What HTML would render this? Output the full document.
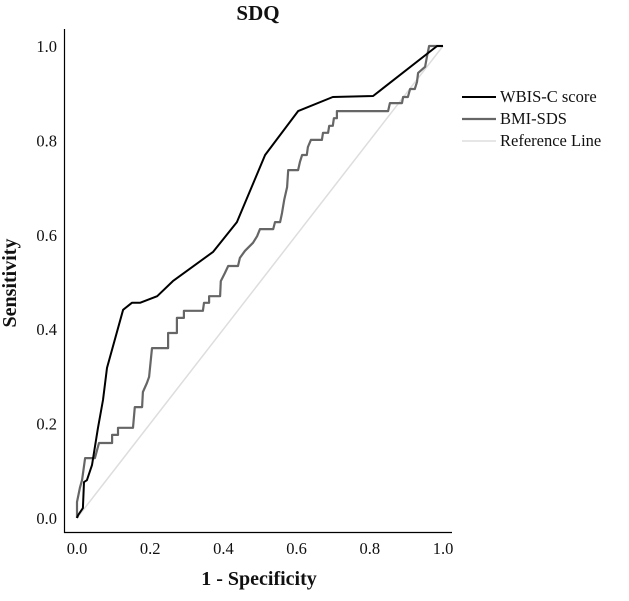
<!DOCTYPE html>
<html><head><meta charset="utf-8"><style>
body{margin:0;background:#fff;}
svg text{font-family:"Liberation Serif",serif;fill:#111;}
</style></head><body>
<svg width="629" height="596" viewBox="0 0 629 596">
<text x="258" y="20" text-anchor="middle" font-size="21" font-weight="bold">SDQ</text>
<text transform="translate(16,283) rotate(-90)" text-anchor="middle" font-size="20" font-weight="bold">Sensitivity</text>
<text x="259" y="585" text-anchor="middle" font-size="20" font-weight="bold">1 - Specificity</text>
<g id="axes"></g>
<g id="plot"></g>
<g>
<line x1="462" y1="97" x2="496" y2="97" stroke="#000" stroke-width="2"/>
<text x="500" y="102" font-size="16.5">WBIS-C score</text>
<line x1="462" y1="119" x2="496" y2="119" stroke="#666" stroke-width="2.2"/>
<text x="500" y="124" font-size="16.5">BMI-SDS</text>
<line x1="462" y1="141" x2="496" y2="141" stroke="#ddd" stroke-width="1.5"/>
<text x="500" y="146" font-size="16.5">Reference Line</text>
</g>
</svg>
<script>
const ticks=[0,0.2,0.4,0.6,0.8,1.0];
const tickLabels=["0.0","0.2","0.4","0.6","0.8","1.0"];
const wbisFpr=[0,0.003,0.016,0.019,0.027,0.041,0.057,0.071,0.082,0.126,0.150,0.172,0.219,0.262,0.372,0.437,0.514,0.604,0.699,0.809,0.984,1];
const wbisTpr=[0,0.006,0.021,0.076,0.08,0.112,0.19,0.25,0.318,0.441,0.456,0.456,0.470,0.502,0.564,0.627,0.769,0.862,0.892,0.894,1.0,1];
const bmiFpr=[0,0,0.008,0.014,0.022,0.049,0.055,0.060,0.096,0.096,0.112,0.112,0.153,0.158,0.178,0.180,0.191,0.197,0.205,0.249,0.249,0.273,0.273,0.292,0.292,0.344,0.347,0.361,0.361,0.391,0.393,0.404,0.413,0.440,0.445,0.459,0.481,0.492,0.500,0.536,0.541,0.555,0.560,0.566,0.574,0.577,0.604,0.609,0.615,0.628,0.631,0.639,0.669,0.672,0.686,0.689,0.699,0.702,0.710,0.710,0.850,0.855,0.888,0.891,0.904,0.910,0.923,0.929,0.932,0.951,0.956,0.962,1];
const bmiTpr=[0,0.034,0.064,0.081,0.127,0.127,0.144,0.159,0.159,0.176,0.176,0.191,0.191,0.235,0.235,0.267,0.286,0.299,0.360,0.360,0.392,0.392,0.424,0.424,0.439,0.439,0.456,0.456,0.470,0.470,0.502,0.519,0.534,0.534,0.551,0.566,0.583,0.597,0.612,0.612,0.627,0.627,0.646,0.674,0.701,0.737,0.737,0.754,0.769,0.769,0.786,0.801,0.801,0.816,0.816,0.831,0.831,0.847,0.847,0.862,0.862,0.879,0.879,0.892,0.892,0.909,0.909,0.924,0.943,0.956,0.977,1.0,1];
const refFpr=[0,1];
const refTpr=[0,1];
const NS="http://www.w3.org/2000/svg";
const X=v=>77+v*366, Y=v=>518-v*472;
const axes=document.getElementById('axes'), plot=document.getElementById('plot');
function mk(tag,attrs,parent){const e=document.createElementNS(NS,tag);for(const k in attrs)e.setAttribute(k,attrs[k]);parent.appendChild(e);return e;}
let a=mk('line',{x1:64.5,y1:29,x2:64.5,y2:533,stroke:'#000','stroke-width':1.2},axes);


a=mk('line',{x1:64,y1:532.5,x2:452,y2:532.5,stroke:'#000','stroke-width':1.2},axes);


ticks.forEach((t,i)=>{
 let tx=mk('text',{x:X(t),y:554,'text-anchor':'middle','font-size':16.5},axes);tx.textContent=tickLabels[i];
 
 
 let ty=mk('text',{x:57,y:Y(t)+6,'text-anchor':'end','font-size':16.5},axes);ty.textContent=tickLabels[i];
 
 
});
function line(xs,ys,stroke,w,name){
 const pts=xs.map((x,i)=>X(x).toFixed(1)+','+Y(ys[i]).toFixed(1)).join(' ');
 const p=mk('polyline',{points:pts,fill:'none',stroke:stroke,'stroke-width':w,'stroke-linejoin':'round'},plot);
 
 
}
line(refFpr,refTpr,'#ddd',1.5,'reference-line');
line(bmiFpr,bmiTpr,'#666',2.2,'bmi-sds-curve');
line(wbisFpr,wbisTpr,'#000',2,'wbis-c-curve');
</script>
</body></html>
